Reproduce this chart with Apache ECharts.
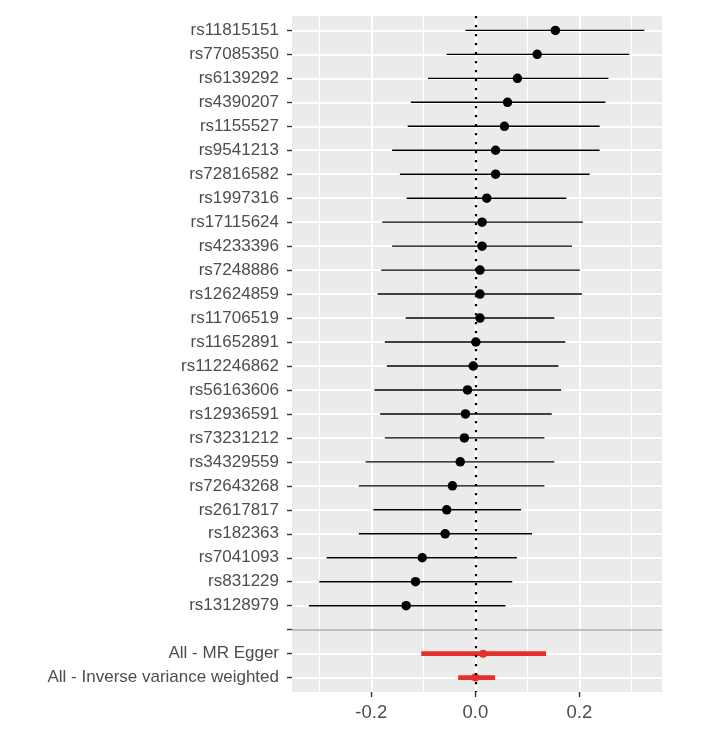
<!DOCTYPE html>
<html>
<head>
<meta charset="utf-8">
<script src="https://cdn.jsdelivr.net/npm/echarts@6/dist/echarts.min.js"></script>
<style>html,body{margin:0;padding:0;background:#fff}#c{width:708px;height:742px}</style>
</head>
<body>
<div id="c"></div>
<script>
// SNP rows (top to bottom)
const snps = ['rs11815151','rs77085350','rs6139292','rs4390207','rs1155527','rs9541213','rs72816582','rs1997316','rs17115624','rs4233396','rs7248886','rs12624859','rs11706519','rs11652891','rs112246862','rs56163606','rs12936591','rs73231212','rs34329559','rs72643268','rs2617817','rs182363','rs7041093','rs831229','rs13128979'];
const snpBeta = [0.154,0.119,0.081,0.062,0.056,0.039,0.039,0.022,0.013,0.013,0.009,0.009,0.009,0.001,-0.004,-0.015,-0.019,-0.021,-0.029,-0.044,-0.055,-0.058,-0.102,-0.115,-0.133];
const snpLow  = [-0.019,-0.055,-0.091,-0.124,-0.130,-0.160,-0.145,-0.132,-0.179,-0.160,-0.181,-0.188,-0.134,-0.174,-0.170,-0.194,-0.183,-0.174,-0.211,-0.224,-0.196,-0.224,-0.286,-0.300,-0.320];
const snpHigh = [0.325,0.296,0.256,0.250,0.239,0.239,0.220,0.175,0.207,0.186,0.201,0.205,0.152,0.173,0.160,0.165,0.147,0.133,0.152,0.133,0.088,0.109,0.080,0.071,0.058];

// Summary rows
const methods = ['All - MR Egger','All - Inverse variance weighted'];
const methodBeta = [0.015, 0.000];
const methodLow  = [-0.104, -0.033];
const methodHigh = [0.136, 0.038];

// x tick labels
const xMajorTicks = [-0.2, 0.0, 0.2];
const xMinorTicks = [-0.3, -0.1, 0.1, 0.3];

// row layout: SNPs, blank separator, methods
const rowLabels = [...snps, '', ...methods];
const rowIndex = rowLabels.map((_, i) => i + 1);
const separatorRow = snps.length + 1;

const snpRange = snps.map((s, i) => [snpLow[i], snpHigh[i], i + 1]);
const snpPts = snps.map((s, i) => [snpBeta[i], i + 1]);
const methRange = methods.map((m, i) => [methodLow[i], methodHigh[i], separatorRow + 1 + i]);
const methPts = methods.map((m, i) => [methodBeta[i], separatorRow + 1 + i]);

const chart = echarts.init(document.getElementById('c'), null, {renderer: 'canvas'});

function rangeRenderer(width, color) {
  return function (params, api) {
    const a = api.coord([api.value(0), api.value(2)]);
    const b = api.coord([api.value(1), api.value(2)]);
    return {
      type: 'line',
      shape: {x1: a[0], y1: a[1], x2: b[0], y2: b[1]},
      style: {stroke: color, lineWidth: width}
    };
  };
}

const red = '#E3302A';
const xMin = -0.3525, xMax = 0.359;
const hiddenLine = {show: true, onZero: false, lineStyle: {color: '#333333', opacity: 0}};

chart.setOption({
  animation: false,
  backgroundColor: '#ffffff',
  grid: {
    left: 292, right: 46, top: 16, bottom: 50,
    show: true, backgroundColor: '#EBEBEB', borderWidth: 0
  },
  xAxis: [{
    type: 'value', min: xMin, max: xMax,
    axisLine: hiddenLine,
    axisTick: {show: true, inside: false, customValues: xMajorTicks, length: 5, lineStyle: {color: '#333333', width: 1.4, opacity: 1}},
    axisLabel: {customValues: xMajorTicks, formatter: v => v.toFixed(1), color: '#4D4D4D', fontSize: 18.5, fontFamily: 'Liberation Sans', margin: 11},
    splitLine: {show: true, lineStyle: {color: '#FFFFFF', width: 2}}
  }, {
    type: 'value', min: xMin, max: xMax, position: 'bottom',
    axisLine: {show: false},
    axisTick: {show: false, customValues: xMinorTicks},
    axisLabel: {show: false, customValues: xMinorTicks},
    splitLine: {show: true, lineStyle: {color: '#FFFFFF', width: 1.1}}
  }],
  yAxis: {
    type: 'value', inverse: true, min: 0.4, max: rowLabels.length + 0.6,
    axisLine: hiddenLine,
    axisTick: {show: true, inside: false, customValues: rowIndex, length: 5, lineStyle: {color: '#333333', width: 1.4, opacity: 1}},
    axisLabel: {customValues: rowIndex, formatter: v => rowLabels[Math.round(v) - 1] || '', color: '#4D4D4D', fontSize: 17, fontFamily: 'Liberation Sans', margin: 13},
    splitLine: {show: true, lineStyle: {color: '#FFFFFF', width: 2}}
  },
  series: [
    {
      type: 'custom', xAxisIndex: 0, renderItem: rangeRenderer(1.4, '#000000'),
      encode: {x: [0, 1], y: 2}, data: snpRange, z: 3, silent: true,
      markLine: {
        silent: true, symbol: 'none', label: {show: false},
        data: [
          {yAxis: separatorRow, lineStyle: {color: '#BEBEBE', width: 2, type: 'solid'}},
          {xAxis: 0, lineStyle: {color: '#000000', width: 2.2, type: [2.2, 6.8]}}
        ]
      }
    },
    {
      type: 'custom', xAxisIndex: 0, renderItem: rangeRenderer(4.8, red),
      encode: {x: [0, 1], y: 2}, data: methRange, z: 3, silent: true
    },
    {
      type: 'scatter', xAxisIndex: 0, data: snpPts, symbol: 'circle', symbolSize: 9.5,
      itemStyle: {color: '#000000', opacity: 1}, z: 4, silent: true
    },
    {
      type: 'scatter', xAxisIndex: 0, data: methPts, symbol: 'circle', symbolSize: 8,
      itemStyle: {color: red, opacity: 1}, z: 4, silent: true
    }
  ]
});
</script>
</body>
</html>
